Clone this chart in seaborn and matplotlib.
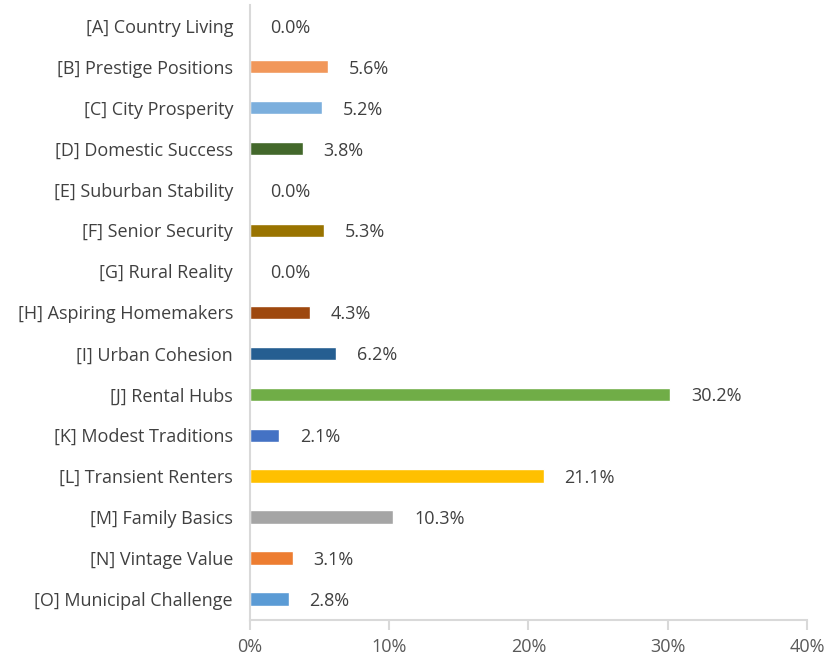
import pandas as pd
import numpy as np
import seaborn as sns
import matplotlib.pyplot as plt
from matplotlib.ticker import PercentFormatter

# Данные
categories = [
    "[A] Country Living", "[B] Prestige Positions", "[C] City Prosperity",
    "[D] Domestic Success", "[E] Suburban Stability", "[F] Senior Security",
    "[G] Rural Reality", "[H] Aspiring Homemakers", "[I] Urban Cohesion",
    "[J] Rental Hubs", "[K] Modest Traditions", "[L] Transient Renters",
    "[M] Family Basics", "[N] Vintage Value", "[O] Municipal Challenge",
]
values = [0.0, 5.6, 5.2, 3.8, 0.0, 5.3, 0.0, 4.3, 6.2, 30.2, 2.1, 21.1, 10.3, 3.1, 2.8]
colors = [
    "#B7B7B7", "#F1975A", "#7CAFDD", "#43682B", "#264478", "#997300",
    "#636363", "#9E480E", "#255E91", "#70AD47", "#4472C4", "#FFC000",
    "#A5A5A5", "#ED7D31", "#5B9BD5",
]
x_ticks = [0, 10, 20, 30, 40]

df = pd.DataFrame({"category": categories, "value": values})

sns.set_style("white")
plt.rcParams["font.family"] = ["Open Sans", "DejaVu Sans"]

fig = plt.figure(figsize=(8.38, 6.57), dpi=100)
ax = fig.add_axes([0.298, 0.057, 0.665, 0.935])

sns.barplot(data=df, x="value", y="category", hue="category",
            palette=dict(zip(categories, colors)), legend=False,
            width=0.33, saturation=1, ax=ax)

for container in ax.containers:
    labels = ax.bar_label(container, fmt="%.1f%%", padding=15, fontsize=13, color="#404040")
    for t in labels:
        t.set_va("center_baseline")

ax.set_xlim(0, 40)
ax.set_ylim(14.5, -0.5)
ax.set_xticks(x_ticks)
ax.xaxis.set_major_formatter(PercentFormatter(decimals=0))
ax.set_xlabel("")
ax.set_ylabel("")

for side in ["top", "right"]:
    ax.spines[side].set_visible(False)
ax.spines["left"].set_color("#D9D9D9")
ax.spines["bottom"].set_color("#D9D9D9")
ax.spines["left"].set_linewidth(1.5)
ax.spines["bottom"].set_linewidth(1.5)

ax.tick_params(axis="x", length=7, width=1.5, color="#D9D9D9", labelsize=13,
               labelcolor="#595959", pad=6, bottom=True)
ax.tick_params(axis="y", length=0, labelsize=13, labelcolor="#404040", pad=12)

plt.savefig("out.png", dpi=100)
